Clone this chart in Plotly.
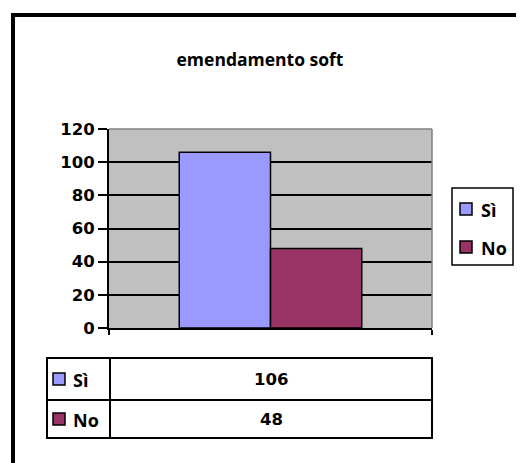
import plotly.graph_objects as go

# chart data
title = 'emendamento soft'
series = ['Sì', 'No']
values = [106, 48]
colors = ['#9999FF', '#993366']
y_ticks = [0, 20, 40, 60, 80, 100, 120]

# the page body adds an 8px margin, so the figure is a bit smaller than the window
OFF = 8
W, H = 524 - OFF, 463 - OFF
# plot area in page pixels
L, R, T, B = 109, 432, 129, 328

def px_x(px):
    return (px - L) / (R - L)

def px_y(py):
    return (B - py) / (B - T)

font_bold = dict(family='Open Sans', size=18, color='black', weight='bold')
num_font = dict(family='DejaVu Sans', size=16.5, color='black', weight='bold')

fig = go.Figure()
for name, val, col in zip(series, values, colors):
    fig.add_trace(go.Bar(
        x=[''], y=[val], name=name,
        marker=dict(color=col, line=dict(color='black', width=1.5)),
    ))

fig.update_layout(
    width=W, height=H,
    margin=dict(l=L - OFF, r=W + OFF - R, t=T - OFF, b=H + OFF - B),
    paper_bgcolor='white', plot_bgcolor='#C0C0C0',
    barmode='group', bargap=0.435, bargroupgap=0,
    showlegend=False,
    title=dict(text=title, xref='container', x=(260 - OFF) / W,
               yref='container', y=1 - (60 - OFF) / H, xanchor='center', yanchor='middle',
               font=dict(family='Open Sans', size=17.5, color='black', weight='bold')),
)

fig.update_yaxes(range=[0, 120], tickvals=y_ticks, showgrid=True,
                 gridcolor='black', gridwidth=1.5, showline=True,
                 linecolor='black', linewidth=2, ticks='outside',
                 ticklen=9, tickcolor='black', tickwidth=2,
                 tickfont=num_font, zeroline=False)
fig.update_xaxes(range=[-0.5, 0.5], showline=True, linecolor='black',
                 linewidth=2, ticks='outside', tickson='boundaries',
                 ticklen=5, tickcolor='black', tickwidth=2,
                 showticklabels=False, showgrid=False)

shapes = []
annotations = []
# gray plot-area border on top and right
shapes.append(dict(type='line', xref='paper', yref='paper', x0=0, x1=1, y0=1, y1=1,
                   line=dict(color='#808080', width=1.5)))
shapes.append(dict(type='line', xref='paper', yref='paper', x0=1, x1=1, y0=0, y1=1,
                   line=dict(color='#808080', width=1.5)))
# chart outer border (left and top visible)
shapes.append(dict(type='path', xref='paper', yref='paper',
                   path=f'M {px_x(13)},{px_y(480)} L {px_x(13)},{px_y(15)} L {px_x(540)},{px_y(15)}',
                   line=dict(color='black', width=4)))

# legend box
shapes.append(dict(type='rect', xref='paper', yref='paper',
                   x0=px_x(452), x1=px_x(513), y0=px_y(188), y1=px_y(265),
                   line=dict(color='black', width=1.5)))
for name, col, yc in zip(series, colors, [209, 247]):
    shapes.append(dict(type='rect', xref='paper', yref='paper',
                       x0=px_x(460), x1=px_x(472), y0=px_y(yc - 6), y1=px_y(yc + 6),
                       fillcolor=col, line=dict(color='black', width=1.5)))
    annotations.append(dict(text=name, xref='paper', yref='paper', x=px_x(479), y=px_y(yc + 1),
                            xanchor='left', yanchor='middle', showarrow=False, font=font_bold))

# data table
tx0, tx1, tcol = 47, 432, 110
ty0, ty1, trow = 358, 438, 400
shapes.append(dict(type='rect', xref='paper', yref='paper',
                   x0=px_x(tx0), x1=px_x(tx1), y0=px_y(ty0), y1=px_y(ty1),
                   line=dict(color='black', width=2)))
shapes.append(dict(type='line', xref='paper', yref='paper',
                   x0=px_x(tx0), x1=px_x(tx1), y0=px_y(trow), y1=px_y(trow),
                   line=dict(color='black', width=2)))
shapes.append(dict(type='line', xref='paper', yref='paper',
                   x0=px_x(tcol), x1=px_x(tcol), y0=px_y(ty0), y1=px_y(ty1),
                   line=dict(color='black', width=2)))

row_centres = [(ty0 + trow) / 2, (trow + ty1) / 2]
for name, val, col, yc in zip(series, values, colors, row_centres):
    shapes.append(dict(type='rect', xref='paper', yref='paper',
                       x0=px_x(53), x1=px_x(65), y0=px_y(yc - 6), y1=px_y(yc + 6),
                       fillcolor=col, line=dict(color='black', width=1.5)))
    annotations.append(dict(text=name, xref='paper', yref='paper', x=px_x(71), y=px_y(yc + 1),
                            xanchor='left', yanchor='middle', showarrow=False, font=font_bold))
    annotations.append(dict(text=str(val), xref='paper', yref='paper',
                            x=px_x((tcol + tx1) / 2), y=px_y(yc),
                            xanchor='center', yanchor='middle', showarrow=False, font=num_font))

fig.update_layout(shapes=shapes, annotations=annotations)

fig.write_html('out.html')
